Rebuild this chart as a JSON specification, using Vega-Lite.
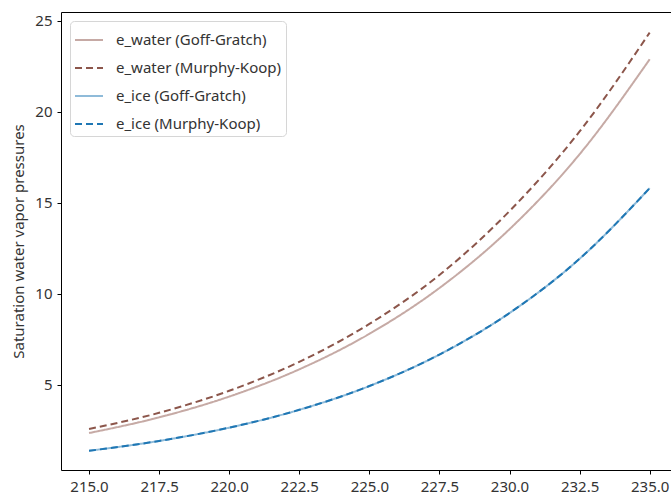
{
  "$schema": "https://vega.github.io/schema/vega-lite/v6.json",
  "width": 610,
  "height": 458,
  "autosize": {"type": "none"},
  "padding": {"left": 61, "top": 12, "right": 0, "bottom": 26},
  "config": {
    "view": {"stroke": null},
    "font": "Noto Sans",
    "axis": {
      "grid": false,
      "domainColor": "#000",
      "domainWidth": 1,
      "tickColor": "#000",
      "tickSize": 4,
      "labelFontSize": 15,
      "labelColor": "#333",
      "labelPadding": 4,
      "titleFontSize": 15,
      "titleFontWeight": "normal",
      "titleColor": "#333"
    },
    "legend": {
      "title": null,
      "orient": "top-left",
      "offset": 9,
      "padding": 4,
      "fillColor": "white",
      "strokeColor": "#d6d6d6",
      "cornerRadius": 4,
      "labelFontSize": 15,
      "labelColor": "#333",
      "labelLimit": 300,
      "labelOffset": 12,
      "symbolType": "stroke",
      "symbolSize": 784,
      "symbolStrokeWidth": 2,
      "rowPadding": 5
    }
  },
  "data": {
    "values": [
      {"T": 215.0, "series": "e_water (Goff-Gratch)", "e": 2.359},
      {"T": 217.5, "series": "e_water (Goff-Gratch)", "e": 3.221},
      {"T": 220.0, "series": "e_water (Goff-Gratch)", "e": 4.362},
      {"T": 222.5, "series": "e_water (Goff-Gratch)", "e": 5.858},
      {"T": 225.0, "series": "e_water (Goff-Gratch)", "e": 7.806},
      {"T": 227.5, "series": "e_water (Goff-Gratch)", "e": 10.324},
      {"T": 230.0, "series": "e_water (Goff-Gratch)", "e": 13.554},
      {"T": 232.5, "series": "e_water (Goff-Gratch)", "e": 17.671},
      {"T": 235.0, "series": "e_water (Goff-Gratch)", "e": 22.883},
      {"T": 215.0, "series": "e_water (Murphy-Koop)", "e": 2.58},
      {"T": 217.5, "series": "e_water (Murphy-Koop)", "e": 3.47},
      {"T": 220.0, "series": "e_water (Murphy-Koop)", "e": 4.68},
      {"T": 222.5, "series": "e_water (Murphy-Koop)", "e": 6.27},
      {"T": 225.0, "series": "e_water (Murphy-Koop)", "e": 8.35},
      {"T": 227.5, "series": "e_water (Murphy-Koop)", "e": 11.04},
      {"T": 230.0, "series": "e_water (Murphy-Koop)", "e": 14.55},
      {"T": 232.5, "series": "e_water (Murphy-Koop)", "e": 18.92},
      {"T": 235.0, "series": "e_water (Murphy-Koop)", "e": 24.35},
      {"T": 215.0, "series": "e_ice (Goff-Gratch)", "e": 1.386},
      {"T": 217.5, "series": "e_ice (Goff-Gratch)", "e": 1.926},
      {"T": 220.0, "series": "e_ice (Goff-Gratch)", "e": 2.655},
      {"T": 222.5, "series": "e_ice (Goff-Gratch)", "e": 3.634},
      {"T": 225.0, "series": "e_ice (Goff-Gratch)", "e": 4.940},
      {"T": 227.5, "series": "e_ice (Goff-Gratch)", "e": 6.671},
      {"T": 230.0, "series": "e_ice (Goff-Gratch)", "e": 8.950},
      {"T": 232.5, "series": "e_ice (Goff-Gratch)", "e": 11.931},
      {"T": 235.0, "series": "e_ice (Goff-Gratch)", "e": 15.809},
      {"T": 215.0, "series": "e_ice (Murphy-Koop)", "e": 1.386},
      {"T": 217.5, "series": "e_ice (Murphy-Koop)", "e": 1.926},
      {"T": 220.0, "series": "e_ice (Murphy-Koop)", "e": 2.655},
      {"T": 222.5, "series": "e_ice (Murphy-Koop)", "e": 3.634},
      {"T": 225.0, "series": "e_ice (Murphy-Koop)", "e": 4.940},
      {"T": 227.5, "series": "e_ice (Murphy-Koop)", "e": 6.671},
      {"T": 230.0, "series": "e_ice (Murphy-Koop)", "e": 8.950},
      {"T": 232.5, "series": "e_ice (Murphy-Koop)", "e": 11.931},
      {"T": 235.0, "series": "e_ice (Murphy-Koop)", "e": 15.809}
    ]
  },
  "layer": [
    {
      "mark": {"type": "line", "strokeWidth": 2, "interpolate": "monotone", "clip": true},
      "encoding": {
        "x": {
          "field": "T",
          "type": "quantitative",
          "scale": {"domain": [214, 235.76], "nice": false, "zero": false},
          "axis": {
            "title": null,
            "values": [215, 217.5, 220, 222.5, 225, 227.5, 230, 232.5, 235],
            "format": ".1f",
            "labelPadding": 5
          }
        },
        "y": {
          "field": "e",
          "type": "quantitative",
          "scale": {"domain": [0.33, 25.48], "nice": false, "zero": false},
          "axis": {
            "title": "Saturation water vapor pressures",
            "values": [5, 10, 15, 20, 25],
            "labelPadding": 5,
            "titlePadding": 8
          }
        },
        "color": {
          "field": "series",
          "type": "nominal",
          "sort": ["e_water (Goff-Gratch)", "e_water (Murphy-Koop)", "e_ice (Goff-Gratch)", "e_ice (Murphy-Koop)"],
          "scale": {
            "domain": ["e_water (Goff-Gratch)", "e_water (Murphy-Koop)", "e_ice (Goff-Gratch)", "e_ice (Murphy-Koop)"],
            "range": ["#c6aaa5", "#8c564b", "#8fbbd9", "#1f77b4"]
          }
        },
        "strokeDash": {
          "field": "series",
          "type": "nominal",
          "sort": ["e_water (Goff-Gratch)", "e_water (Murphy-Koop)", "e_ice (Goff-Gratch)", "e_ice (Murphy-Koop)"],
          "scale": {
            "domain": ["e_water (Goff-Gratch)", "e_water (Murphy-Koop)", "e_ice (Goff-Gratch)", "e_ice (Murphy-Koop)"],
            "range": [[1, 0], [7, 4], [1, 0], [7, 4]]
          }
        }
      }
    },
    {
      "mark": {"type": "point", "opacity": 0},
      "encoding": {
        "x": {
          "field": "T",
          "type": "quantitative",
          "axis": {"orient": "top", "labels": false, "ticks": false, "title": null}
        },
        "y": {"field": "e", "type": "quantitative"}
      }
    }
  ],
  "resolve": {"axis": {"x": "independent"}}
}
